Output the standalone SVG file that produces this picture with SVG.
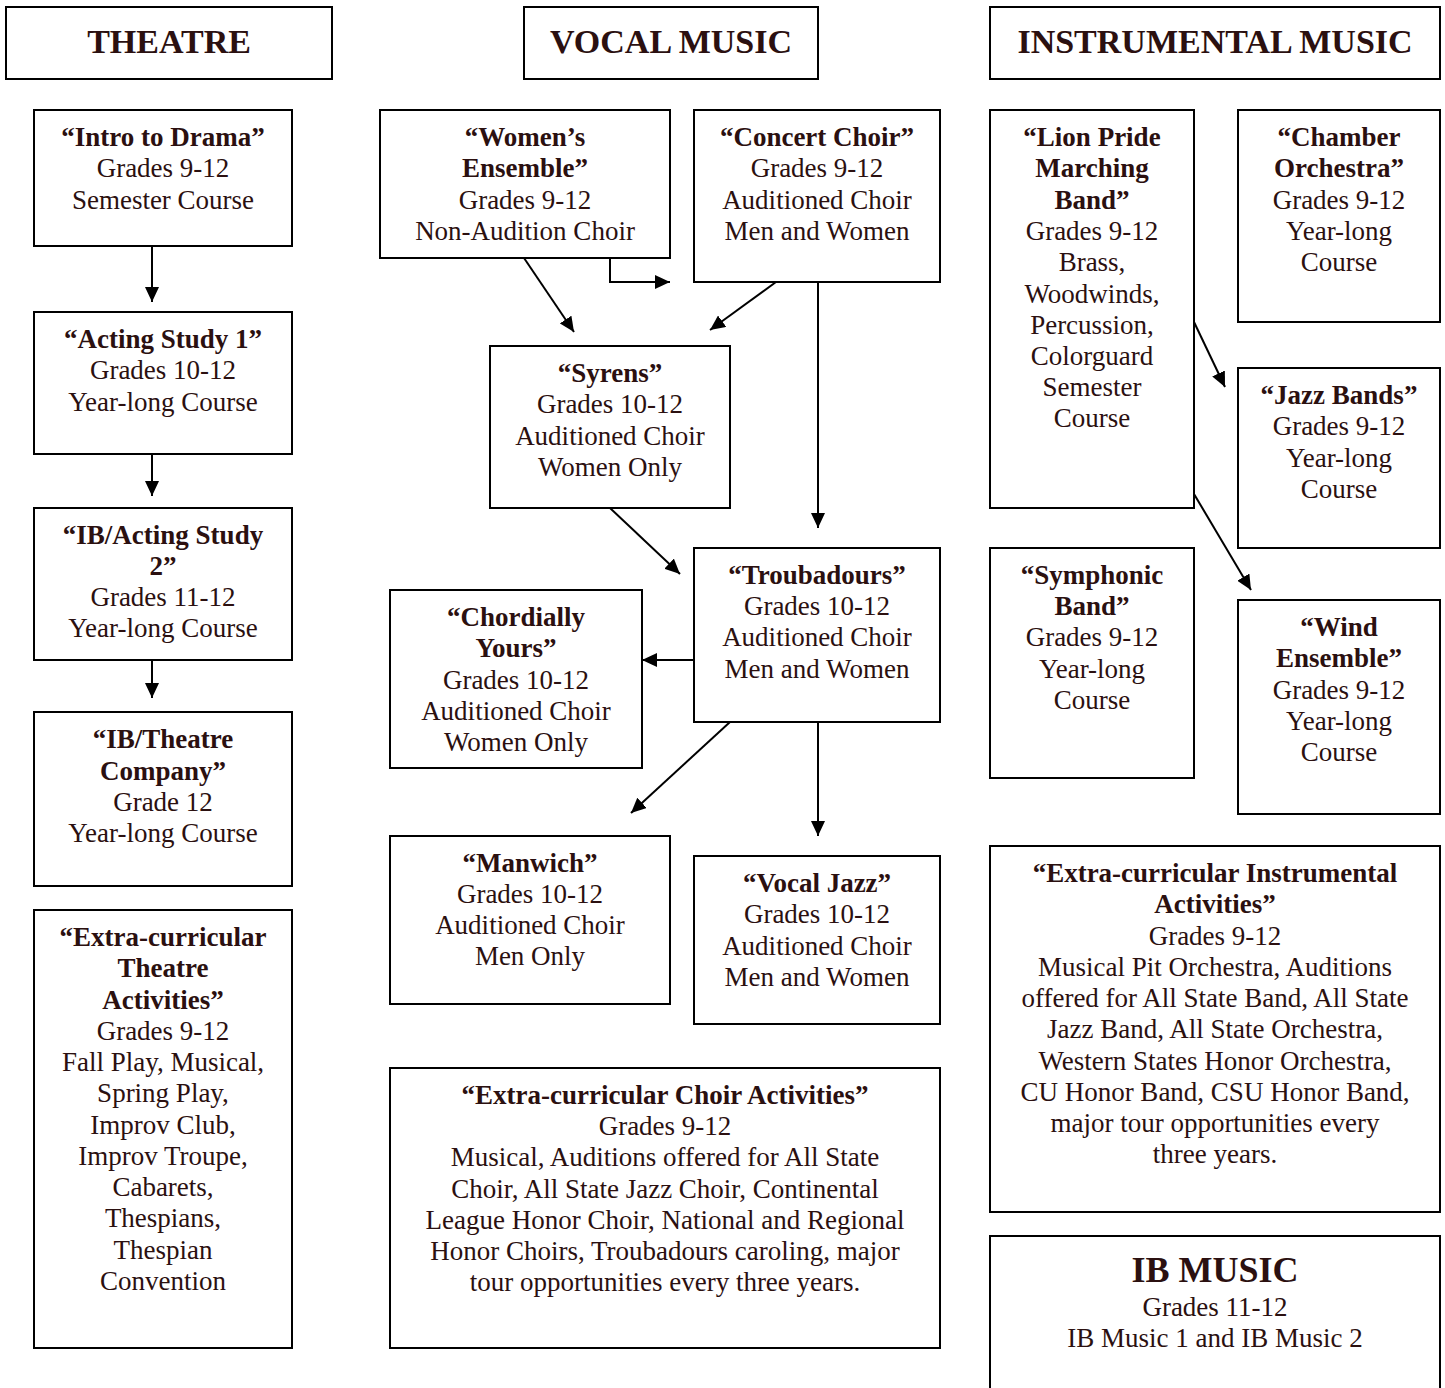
<svg xmlns="http://www.w3.org/2000/svg" width="1445" height="1388" viewBox="0 0 1445 1388">
<defs>
<marker id="ah" markerUnits="userSpaceOnUse" markerWidth="16" markerHeight="14" refX="15" refY="7" orient="auto">
<path d="M0,0 L15,7 L0,14 Z" fill="#000"/>
</marker>
<style>
.box{fill:#fff;stroke:#000;stroke-width:2}
text{font-family:"Liberation Serif","Times New Roman",serif;fill:#2b1010;text-anchor:middle;font-size:27px}
.b{font-weight:bold}
.h{font-weight:bold;font-size:34px}
.c{stroke:#000;stroke-width:2;fill:none;marker-end:url(#ah)}
</style>
</defs>
<rect width="1445" height="1388" fill="#fff"/>

<g id="h-theatre"><rect class="box" x="6" y="7" width="326" height="72"/><text class="h" x="169" y="53">THEATRE</text></g>
<g id="h-vocal"><rect class="box" x="524" y="7" width="294" height="72"/><text class="h" x="671" y="53">VOCAL MUSIC</text></g>
<g id="h-instr"><rect class="box" x="990" y="7" width="450" height="72"/><text class="h" x="1215" y="53">INSTRUMENTAL MUSIC</text></g>

<g id="intro"><rect class="box" x="34" y="110" width="258" height="136"/>
<text class="b" x="163" y="146">“Intro to Drama”</text><text x="163" y="177">Grades 9-12</text><text x="163" y="209">Semester Course</text></g>
<g id="acting1"><rect class="box" x="34" y="312" width="258" height="142"/>
<text class="b" x="163" y="348">“Acting Study 1”</text><text x="163" y="379">Grades 10-12</text><text x="163" y="411">Year-long Course</text></g>
<g id="acting2"><rect class="box" x="34" y="508" width="258" height="152"/>
<text class="b" x="163" y="544">“IB/Acting Study</text><text class="b" x="163" y="575">2”</text><text x="163" y="606">Grades 11-12</text><text x="163" y="637">Year-long Course</text></g>
<g id="ibtheatre"><rect class="box" x="34" y="712" width="258" height="174"/>
<text class="b" x="163" y="748">“IB/Theatre</text><text class="b" x="163" y="780">Company”</text><text x="163" y="811">Grade 12</text><text x="163" y="842">Year-long Course</text></g>
<g id="extheatre"><rect class="box" x="34" y="910" width="258" height="438"/>
<text class="b" x="163" y="946">“Extra-curricular</text><text class="b" x="163" y="977">Theatre</text><text class="b" x="163" y="1009">Activities”</text>
<text x="163" y="1040">Grades 9-12</text><text x="163" y="1071">Fall Play, Musical,</text><text x="163" y="1102">Spring Play,</text><text x="163" y="1134">Improv Club,</text><text x="163" y="1165">Improv Troupe,</text><text x="163" y="1196">Cabarets,</text><text x="163" y="1227">Thespians,</text><text x="163" y="1259">Thespian</text><text x="163" y="1290">Convention</text></g>

<g id="womens"><rect class="box" x="380" y="110" width="290" height="148"/>
<text class="b" x="525" y="146">“Women’s</text><text class="b" x="525" y="177">Ensemble”</text><text x="525" y="209">Grades 9-12</text><text x="525" y="240">Non-Audition Choir</text></g>
<g id="concert"><rect class="box" x="694" y="110" width="246" height="172"/>
<text class="b" x="817" y="146">“Concert Choir”</text><text x="817" y="177">Grades 9-12</text><text x="817" y="209">Auditioned Choir</text><text x="817" y="240">Men and Women</text></g>
<g id="syrens"><rect class="box" x="490" y="346" width="240" height="162"/>
<text class="b" x="610" y="382">“Syrens”</text><text x="610" y="413">Grades 10-12</text><text x="610" y="445">Auditioned Choir</text><text x="610" y="476">Women Only</text></g>
<g id="troubadours"><rect class="box" x="694" y="548" width="246" height="174"/>
<text class="b" x="817" y="584">“Troubadours”</text><text x="817" y="615">Grades 10-12</text><text x="817" y="646">Auditioned Choir</text><text x="817" y="678">Men and Women</text></g>
<g id="chordially"><rect class="box" x="390" y="590" width="252" height="178"/>
<text class="b" x="516" y="626">“Chordially</text><text class="b" x="516" y="657">Yours”</text><text x="516" y="689">Grades 10-12</text><text x="516" y="720">Auditioned Choir</text><text x="516" y="751">Women Only</text></g>
<g id="manwich"><rect class="box" x="390" y="836" width="280" height="168"/>
<text class="b" x="530" y="872">“Manwich”</text><text x="530" y="903">Grades 10-12</text><text x="530" y="934">Auditioned Choir</text><text x="530" y="965">Men Only</text></g>
<g id="vocaljazz"><rect class="box" x="694" y="856" width="246" height="168"/>
<text class="b" x="817" y="892">“Vocal Jazz”</text><text x="817" y="923">Grades 10-12</text><text x="817" y="955">Auditioned Choir</text><text x="817" y="986">Men and Women</text></g>
<g id="exchoir"><rect class="box" x="390" y="1068" width="550" height="280"/>
<text class="b" x="665" y="1104">“Extra-curricular Choir Activities”</text><text x="665" y="1135">Grades 9-12</text><text x="665" y="1166">Musical, Auditions offered for All State</text><text x="665" y="1198">Choir, All State Jazz Choir, Continental</text><text x="665" y="1229">League Honor Choir, National and Regional</text><text x="665" y="1260">Honor Choirs, Troubadours caroling, major</text><text x="665" y="1291">tour opportunities every three years.</text></g>

<g id="lionpride"><rect class="box" x="990" y="110" width="204" height="398"/>
<text class="b" x="1092" y="146">“Lion Pride</text><text class="b" x="1092" y="177">Marching</text><text class="b" x="1092" y="209">Band”</text><text x="1092" y="240">Grades 9-12</text><text x="1092" y="271">Brass,</text><text x="1092" y="303">Woodwinds,</text><text x="1092" y="334">Percussion,</text><text x="1092" y="365">Colorguard</text><text x="1092" y="396">Semester</text><text x="1092" y="427">Course</text></g>
<g id="chamber"><rect class="box" x="1238" y="110" width="202" height="212"/>
<text class="b" x="1339" y="146">“Chamber</text><text class="b" x="1339" y="177">Orchestra”</text><text x="1339" y="209">Grades 9-12</text><text x="1339" y="240">Year-long</text><text x="1339" y="271">Course</text></g>
<g id="jazzbands"><rect class="box" x="1238" y="368" width="202" height="180"/>
<text class="b" x="1339" y="404">“Jazz Bands”</text><text x="1339" y="435">Grades 9-12</text><text x="1339" y="467">Year-long</text><text x="1339" y="498">Course</text></g>
<g id="symphonic"><rect class="box" x="990" y="548" width="204" height="230"/>
<text class="b" x="1092" y="584">“Symphonic</text><text class="b" x="1092" y="615">Band”</text><text x="1092" y="646">Grades 9-12</text><text x="1092" y="678">Year-long</text><text x="1092" y="709">Course</text></g>
<g id="wind"><rect class="box" x="1238" y="600" width="202" height="214"/>
<text class="b" x="1339" y="636">“Wind</text><text class="b" x="1339" y="667">Ensemble”</text><text x="1339" y="699">Grades 9-12</text><text x="1339" y="730">Year-long</text><text x="1339" y="761">Course</text></g>
<g id="exinstr"><rect class="box" x="990" y="846" width="450" height="366"/>
<text class="b" x="1215" y="882">“Extra-curricular Instrumental</text><text class="b" x="1215" y="913">Activities”</text><text x="1215" y="945">Grades 9-12</text><text x="1215" y="976">Musical Pit Orchestra, Auditions</text><text x="1215" y="1007">offered for All State Band, All State</text><text x="1215" y="1038">Jazz Band, All State Orchestra,</text><text x="1215" y="1070">Western States Honor Orchestra,</text><text x="1215" y="1101">CU Honor Band, CSU Honor Band,</text><text x="1215" y="1132">major tour opportunities every</text><text x="1215" y="1163">three years.</text></g>
<g id="ibmusic"><rect class="box" x="990" y="1236" width="450" height="170"/>
<text class="b" x="1215" y="1282" style="font-size:36px">IB MUSIC</text><text x="1215" y="1316">Grades 11-12</text><text x="1215" y="1347">IB Music 1 and IB Music 2</text></g>

<g id="connectors">
<line class="c" x1="152" y1="246" x2="152" y2="302"/>
<line class="c" x1="152" y1="454" x2="152" y2="496"/>
<line class="c" x1="152" y1="660" x2="152" y2="698"/>
<polyline class="c" points="610,258 610,282 670,282"/>
<line class="c" x1="524" y1="258" x2="574" y2="332"/>
<line class="c" x1="776" y1="282" x2="710" y2="330"/>
<line class="c" x1="818" y1="282" x2="818" y2="528"/>
<line class="c" x1="610" y1="508" x2="680" y2="574"/>
<line class="c" x1="694" y1="660" x2="642" y2="660"/>
<line class="c" x1="730" y1="722" x2="631" y2="813"/>
<line class="c" x1="818" y1="722" x2="818" y2="836"/>
<line class="c" x1="1194" y1="322" x2="1225" y2="387"/>
<line class="c" x1="1194" y1="494" x2="1251" y2="590"/>
</g>
</svg>
